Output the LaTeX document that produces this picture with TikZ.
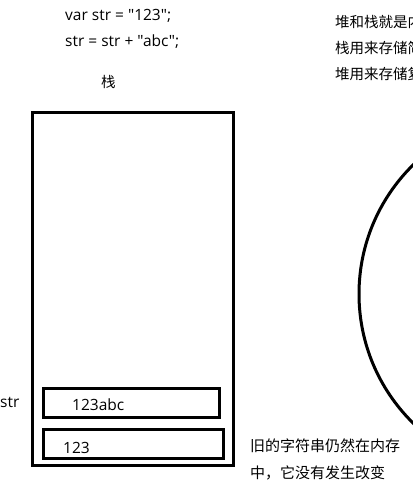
\documentclass[tikz,border=0pt]{standalone}
\usepackage{fontspec}
\setmainfont{Noto Sans CJK SC}
\newfontfamily\codefont{Open Sans}[Ligatures=ResetAll]
\begin{document}
\begin{tikzpicture}[x=1pt,y=-1pt,
  txt/.style={inner sep=0pt, anchor=base west, font=\fontsize{14.5}{17}\selectfont},
  lat/.style={inner sep=0pt, anchor=base west, font=\codefont\fontsize{15.5}{18}\selectfont},
  boxline/.style={draw=black, line width=3pt}]
\useasboundingbox (0,0) rectangle (413,483);
\clip (0,0) rectangle (413,483);
% code lines
\node[lat] (code1) at (65,20) {var str = "123";};
\node[lat] (code2) at (65,46) {str = str + "abc";};
\node[txt] (stacklbl) at (101,87) {栈};
% right notes (clipped at edge, as in the reference)
\node[txt] (note1) at (335,27) {堆和栈就是内};
\node[txt] (note2) at (335,53) {栈用来存储简};
\node[txt] (note3) at (335,79) {堆用来存储复};
% stack
\draw[boxline] (32,112) rectangle (233,465);
\draw[boxline] (43,388) rectangle (219.5,417.5);
\draw[boxline] (43,429.5) rectangle (223,458.5);
\node[lat] (strlbl) at (0,407) {str};
\node[lat] (newval) at (72,410) {123abc};
\node[lat] (oldval) at (63,453) {123};
% heap circle
\draw[boxline] (540,294) circle (181);
% bottom note
\node[txt, font=\fontsize{15}{17}\selectfont] (old1) at (250,451) {旧的字符串仍然在内存};
\node[txt, font=\fontsize{15}{17}\selectfont] (old2) at (250,478) {中，它没有发生改变};
\end{tikzpicture}
\end{document}
